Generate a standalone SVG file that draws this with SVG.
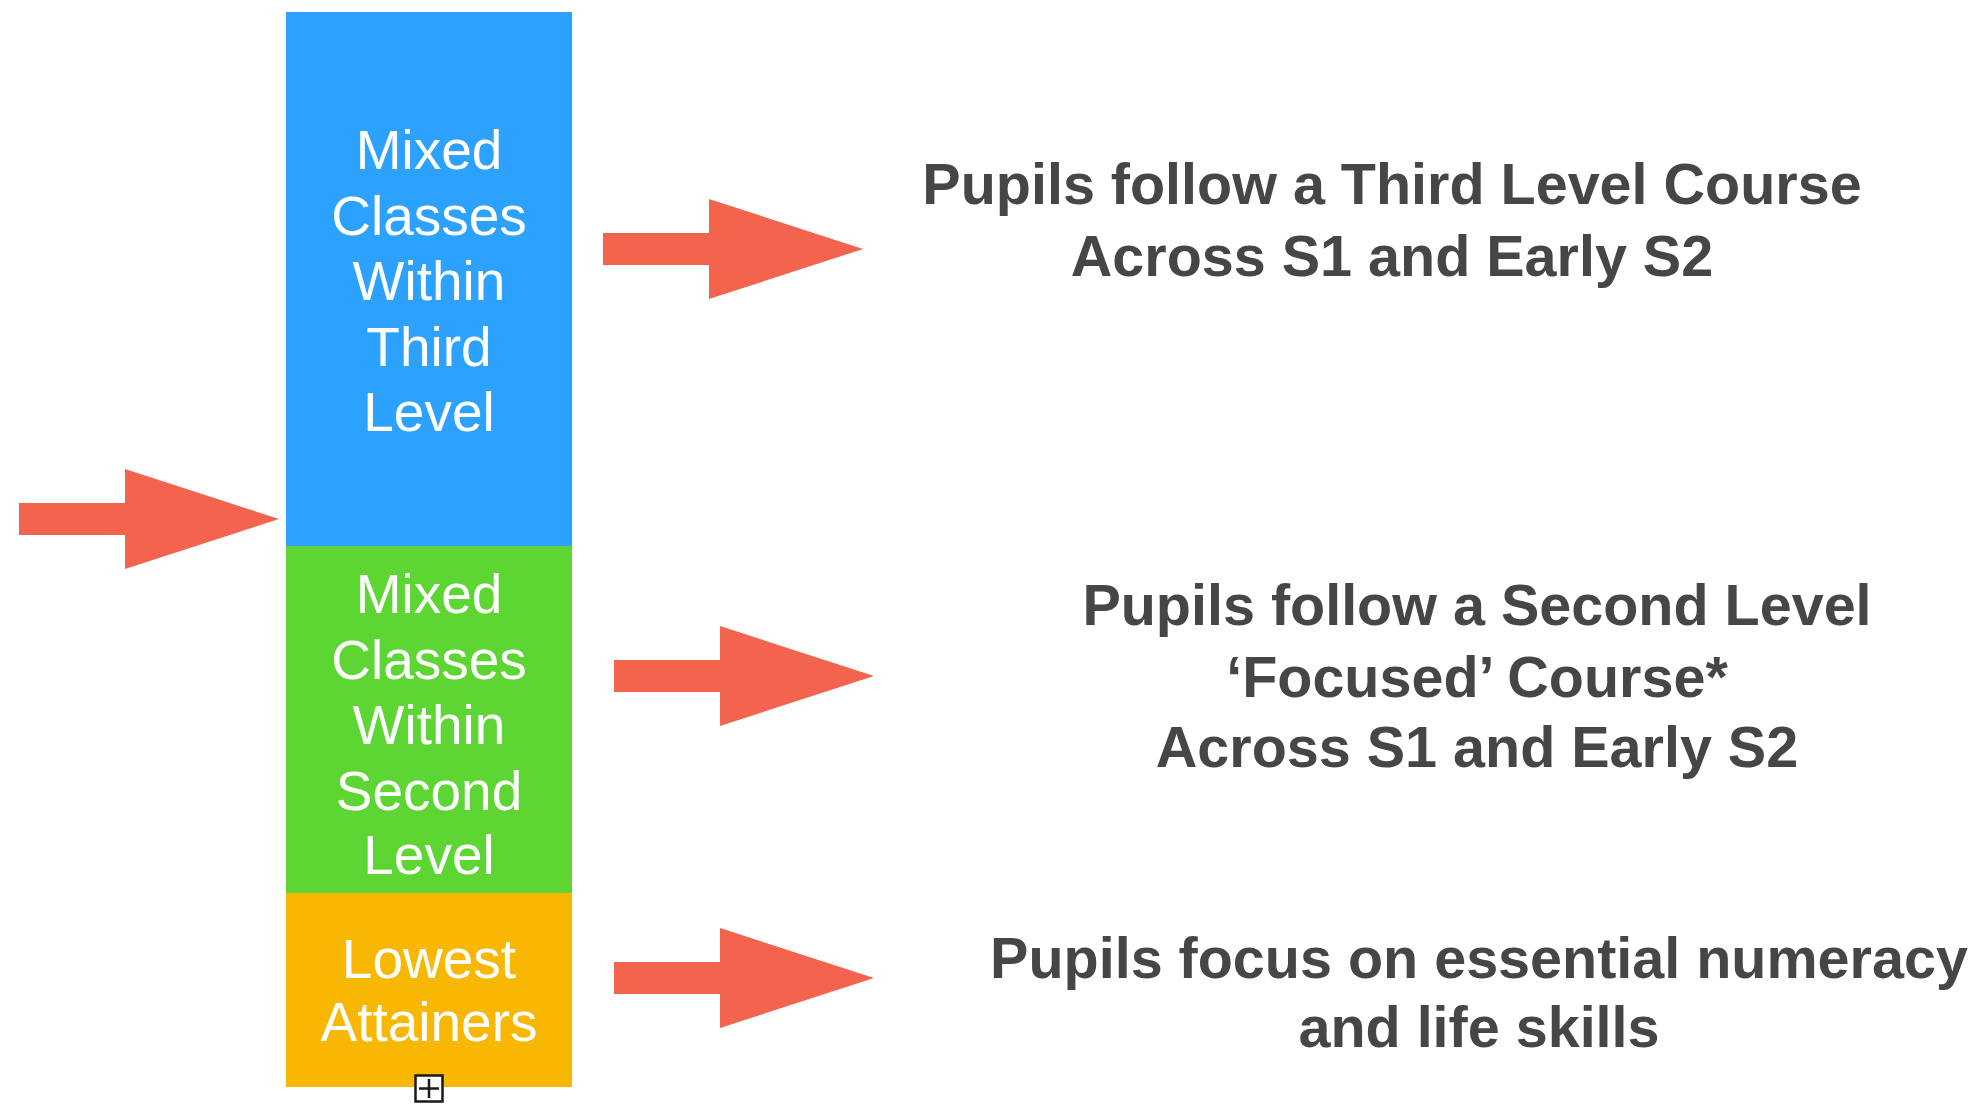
<svg xmlns="http://www.w3.org/2000/svg" xmlns:xlink="http://www.w3.org/1999/xlink" width="1971" height="1104" viewBox="0 0 1971 1104">
  <style>
    .band-text { font-family: "Liberation Sans", Arial, Helvetica, sans-serif; font-size: 55px; fill: #ffffff; text-anchor: middle; }
    .note { font-family: "Liberation Sans", Arial, Helvetica, sans-serif; font-size: 57.5px; font-weight: bold; fill: #464646; text-anchor: middle; }
    .arrow { fill: #F3634D; }
  </style>
  <defs>
    <!-- block arrow pointing right, origin at the tail centre -->
    <path id="block-arrow" d="M0,-16 H106 V-50 L260,0 L106,50 V16 H0 Z"/>
  </defs>

  <rect width="1971" height="1104" fill="#ffffff"/>

  <!-- stacked attainment bands -->
  <g id="third-level">
    <rect x="286" y="12" width="286" height="534" fill="#2CA2FE"/>
    <text class="band-text" x="429" y="169">Mixed</text>
    <text class="band-text" x="429" y="235">Classes</text>
    <text class="band-text" x="429" y="300">Within</text>
    <text class="band-text" x="429" y="366">Third</text>
    <text class="band-text" x="429" y="431">Level</text>
  </g>

  <g id="second-level">
    <rect x="286" y="546" width="286" height="347" fill="#5DD634"/>
    <text class="band-text" x="429" y="613">Mixed</text>
    <text class="band-text" x="429" y="679">Classes</text>
    <text class="band-text" x="429" y="744">Within</text>
    <text class="band-text" x="429" y="810">Second</text>
    <text class="band-text" x="429" y="874">Level</text>
  </g>

  <g id="lowest-attainers">
    <rect x="286" y="893" width="286" height="194" fill="#F7B703"/>
    <text class="band-text" x="429" y="978">Lowest</text>
    <text class="band-text" x="429" y="1041">Attainers</text>
    <!-- small expand box on the lower edge -->
    <g id="expand-box">
      <rect x="415.5" y="1075.5" width="27" height="26" fill="#ffffff" stroke="#1a1a1a" stroke-width="2.5"/>
      <path d="M429,1079 V1098 M419,1088.5 H439" stroke="#1a1a1a" stroke-width="2.5" fill="none"/>
    </g>
  </g>

  <!-- course descriptions -->
  <g id="third-level-course">
    <text class="note" x="1392" y="204">Pupils follow a Third Level Course</text>
    <text class="note" x="1392" y="276">Across S1 and Early S2</text>
  </g>

  <g id="second-level-course">
    <text class="note" x="1477" y="625">Pupils follow a Second Level</text>
    <text class="note" x="1477" y="697">‘Focused’ Course*</text>
    <text class="note" x="1477" y="767">Across S1 and Early S2</text>
  </g>

  <g id="numeracy-focus">
    <text class="note" x="1479" y="978">Pupils focus on essential numeracy</text>
    <text class="note" x="1479" y="1047">and life skills</text>
  </g>

  <!-- connectors -->
  <g id="connectors" class="arrow">
    <use xlink:href="#block-arrow" transform="translate(19,519)"/>
    <use xlink:href="#block-arrow" transform="translate(603,249)"/>
    <use xlink:href="#block-arrow" transform="translate(614,676)"/>
    <use xlink:href="#block-arrow" transform="translate(614,978)"/>
  </g>
</svg>
